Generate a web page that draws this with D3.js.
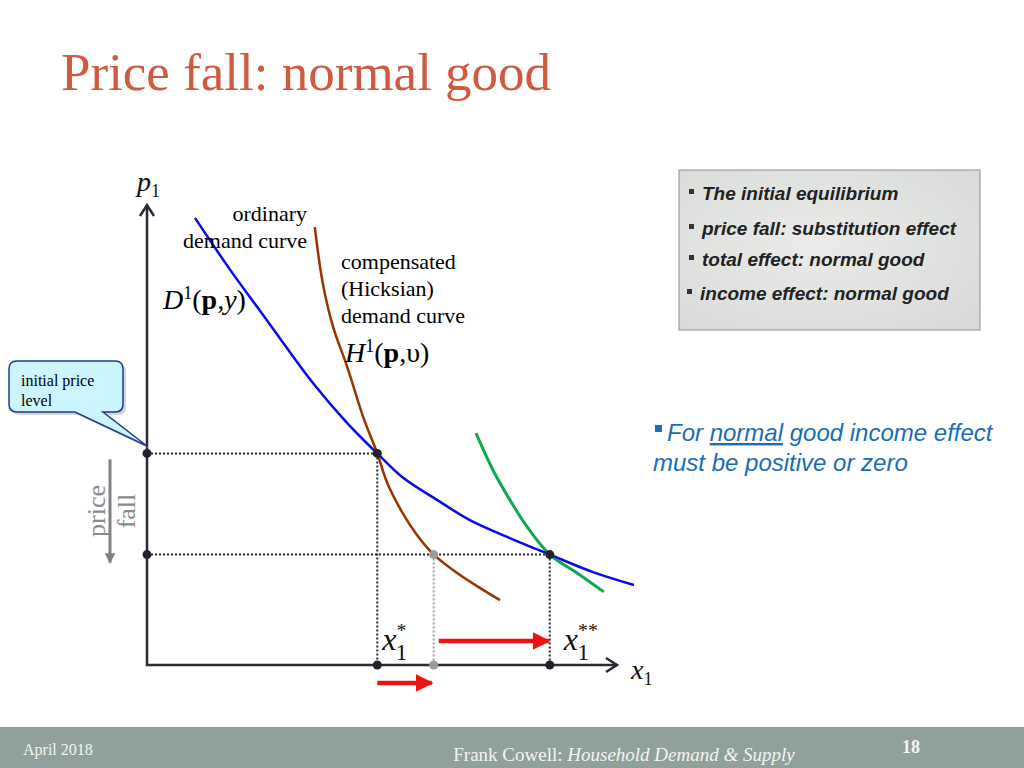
<!DOCTYPE html>
<html>
<head>
<meta charset="utf-8">
<script src="https://cdn.jsdelivr.net/npm/d3@7"></script>
<style>
  body { margin: 0; background: #fff; }
  svg { display: block; }
</style>
</head>
<body>
<script>
// curves, in chart units (x: quantity 0..10, y: price 0..10)
const ordinaryDemand = [[1.02, 9.72], [1.77, 8.59], [2.47, 7.61], [3.53, 6.13], [4.26, 5.26], [4.90, 4.60], [5.45, 4.07], [6.17, 3.59], [6.87, 3.15], [7.72, 2.76], [8.57, 2.40], [9.49, 2.02], [10.36, 1.74]];
const compensatedDemand = [[3.57, 9.52], [3.74, 8.30], [3.96, 7.35], [4.26, 6.48], [4.60, 5.39], [4.90, 4.60], [5.11, 3.96], [5.44, 3.30], [5.74, 2.83], [6.10, 2.40], [6.60, 2.00], [7.09, 1.67], [7.51, 1.41]];
const newCompensated = [[7.00, 5.04], [7.36, 4.24], [7.72, 3.59], [8.09, 3.00], [8.57, 2.40], [9.15, 2.00], [9.72, 1.59]];

const priceLevels = [4.6, 2.4];          // initial, after fall
const quantities = [4.9, 6.1, 8.57];     // x*, substitution point, x**

const legendItems = ['The initial equilibrium', 'price fall: substitution effect', 'total effect: normal good', 'income effect: normal good'];

const width = 1024, height = 768;
const svg = d3.select('body').append('svg')
    .attr('width', width)
    .attr('height', height)
    .style('font-family', 'Liberation Serif, serif');

const defs = svg.append('defs');
defs.append('marker').attr('id', 'redHead')
    .attr('viewBox', '0 0 10 10').attr('refX', 9).attr('refY', 5)
    .attr('markerWidth', 4).attr('markerHeight', 4).attr('orient', 'auto')
    .attr('markerUnits', 'strokeWidth')
    .append('path').attr('d', 'M0,0 L10,5 L0,10 Z').attr('fill', '#ee1111');
defs.append('marker').attr('id', 'greyHead')
    .attr('viewBox', '0 0 10 10').attr('refX', 9).attr('refY', 5)
    .attr('markerWidth', 3.5).attr('markerHeight', 3.5).attr('orient', 'auto')
    .attr('markerUnits', 'strokeWidth')
    .append('path').attr('d', 'M0,0 L10,5 L0,10 Z').attr('fill', '#808080');
const grad = defs.append('radialGradient').attr('id', 'boxFill')
    .attr('cx', '45%').attr('cy', '45%').attr('r', '70%');
grad.append('stop').attr('offset', '0%').attr('stop-color', '#ebecea');
grad.append('stop').attr('offset', '100%').attr('stop-color', '#d8dbd8');

// title
svg.append('text')
    .attr('x', 61).attr('y', 90)
    .attr('fill', '#d05a40')
    .style('font-size', '53px')
    .text('Price fall: normal good');

// scales
const x = d3.scaleLinear().domain([0, 10]).range([147, 617]);
const y = d3.scaleLinear().domain([0, 10]).range([665, 205]);

const line = d3.line()
    .x(d => x(d[0]))
    .y(d => y(d[1]))
    .curve(d3.curveCatmullRom.alpha(0.5));

// dotted guides
const guides = svg.append('g')
    .attr('stroke', '#2a2a35').attr('stroke-width', 2)
    .attr('stroke-dasharray', '2,2').attr('fill', 'none');
guides.append('line').attr('x1', x(0)).attr('x2', x(quantities[0]))
    .attr('y1', y(priceLevels[0])).attr('y2', y(priceLevels[0]));
guides.append('line').attr('x1', x(quantities[0])).attr('x2', x(quantities[0]))
    .attr('y1', y(priceLevels[0])).attr('y2', y(0));
guides.append('line').attr('x1', x(0)).attr('x2', x(quantities[2]))
    .attr('y1', y(priceLevels[1])).attr('y2', y(priceLevels[1]));
guides.append('line').attr('x1', x(quantities[2])).attr('x2', x(quantities[2]))
    .attr('y1', y(priceLevels[1])).attr('y2', y(0));
svg.append('line')
    .attr('stroke', '#a0a0a0').attr('stroke-width', 2).attr('stroke-dasharray', '2,2')
    .attr('x1', x(quantities[1])).attr('x2', x(quantities[1]))
    .attr('y1', y(priceLevels[1])).attr('y2', y(0));

// curves
svg.append('path').datum(compensatedDemand)
    .attr('d', line).attr('fill', 'none')
    .attr('stroke', '#993300').attr('stroke-width', 2.5);
svg.append('path').datum(newCompensated)
    .attr('d', line).attr('fill', 'none')
    .attr('stroke', '#10a84f').attr('stroke-width', 3);
svg.append('path').datum(ordinaryDemand)
    .attr('d', line).attr('fill', 'none')
    .attr('stroke', '#0a0ae6').attr('stroke-width', 2.5);

// axes
const axes = svg.append('g').attr('stroke', '#2a2a35').attr('stroke-width', 2.5).attr('fill', 'none');
axes.append('path').attr('d', `M${x(0)},${y(10)} V${y(0)} H${x(10)}`);
axes.append('path').attr('d', `M${x(0) - 7},${y(10) + 11} L${x(0)},${y(10)} L${x(0) + 7},${y(10) + 11}`);
axes.append('path').attr('d', `M${x(10) - 11},${y(0) - 7} L${x(10)},${y(0)} L${x(10) - 11},${y(0) + 7}`);

// dots
const blackDots = [[0, priceLevels[0]], [quantities[0], priceLevels[0]], [0, priceLevels[1]],
    [quantities[2], priceLevels[1]], [quantities[0], 0], [quantities[2], 0]];
svg.append('g').selectAll('circle').data(blackDots).join('circle')
    .attr('cx', d => x(d[0])).attr('cy', d => y(d[1])).attr('r', 4.5).attr('fill', '#22222c');
svg.append('g').selectAll('circle').data([[quantities[1], priceLevels[1]], [quantities[1], 0]]).join('circle')
    .attr('cx', d => x(d[0])).attr('cy', d => y(d[1])).attr('r', 4.5).attr('fill', '#9a9a9a');

// red arrows: income effect and substitution effect
svg.append('line')
    .attr('x1', x(quantities[1]) + 5).attr('x2', x(quantities[2]) - 1)
    .attr('y1', 641).attr('y2', 641)
    .attr('stroke', '#ee1111').attr('stroke-width', 4.5).attr('marker-end', 'url(#redHead)');
svg.append('line')
    .attr('x1', x(quantities[0])).attr('x2', x(quantities[1]) - 2)
    .attr('y1', 683).attr('y2', 683)
    .attr('stroke', '#ee1111').attr('stroke-width', 4.5).attr('marker-end', 'url(#redHead)');

// price fall arrow + label
svg.append('line')
    .attr('x1', 110).attr('x2', 110).attr('y1', y(priceLevels[0]) + 6).attr('y2', y(priceLevels[1]) + 8)
    .attr('stroke', '#808080').attr('stroke-width', 3).attr('marker-end', 'url(#greyHead)');
const pf = svg.append('text')
    .attr('transform', 'translate(0,511) rotate(-90)')
    .attr('text-anchor', 'middle').attr('fill', '#8a8a8a').style('font-size', '26px');
pf.append('tspan').attr('x', 0).attr('y', 105).text('price');
pf.append('tspan').attr('x', 0).attr('y', 135).text('fall');

// axis labels
function subLabel(px, py, main, sub, sup, size) {
    const t = svg.append('text').attr('x', px).attr('y', py).style('font-size', size + 'px').attr('fill', '#111');
    t.append('tspan').style('font-style', 'italic').text(main);
    if (sup) {
        t.append('tspan').attr('dy', -size * 0.42).style('font-size', (size * 0.62) + 'px').text(sup);
        t.append('tspan').attr('dx', -size * 0.3 * sup.length - 1).attr('dy', size * 0.72).style('font-size', (size * 0.72) + 'px').text(sub);
    } else {
        t.append('tspan').attr('dy', size * 0.2).style('font-size', (size * 0.65) + 'px').text(sub);
    }
}
subLabel(137, 191, 'p', '1', null, 28);
subLabel(631, 679, 'x', '1', null, 28);
subLabel(x(quantities[0]) + 5, 650, 'x', '1', '*', 32);
subLabel(x(quantities[2]) + 14, 650, 'x', '1', '**', 32);

// curve labels
svg.append('text').attr('x', 307).attr('y', 221).attr('text-anchor', 'end').style('font-size', '22px').text('ordinary');
svg.append('text').attr('x', 307).attr('y', 248).attr('text-anchor', 'end').style('font-size', '22px').text('demand curve');
['compensated', '(Hicksian)', 'demand curve'].forEach((s, i) => {
    svg.append('text').attr('x', 341).attr('y', 269 + i * 27).style('font-size', '22px').text(s);
});
const dl = svg.append('text').attr('x', 163).attr('y', 309).style('font-size', '28px');
dl.append('tspan').style('font-style', 'italic').text('D');
dl.append('tspan').attr('dy', -10).style('font-size', '18px').text('1');
dl.append('tspan').attr('dy', 10).text('(');
dl.append('tspan').style('font-weight', 'bold').text('p');
dl.append('tspan').text(',');
dl.append('tspan').style('font-style', 'italic').text('y');
dl.append('tspan').text(')');
const hl = svg.append('text').attr('x', 345).attr('y', 362).style('font-size', '28px');
hl.append('tspan').style('font-style', 'italic').text('H');
hl.append('tspan').attr('dy', -10).style('font-size', '18px').text('1');
hl.append('tspan').attr('dy', 10).text('(');
hl.append('tspan').style('font-weight', 'bold').text('p');
hl.append('tspan').text(',υ)');

// callout
const calloutPath = 'M17,361 H115 Q123,361 123,369 V404 Q123,412 115,412 H103 L147,446 L75,412 H17 Q9,412 9,404 V369 Q9,361 17,361 Z';
svg.append('path').attr('d', calloutPath).attr('transform', 'translate(3,3)').attr('fill', '#b8b8c0').attr('opacity', 0.6);
svg.append('path').attr('d', calloutPath).attr('fill', '#ccf6ff').attr('stroke', '#1f3a8f').attr('stroke-width', 1.5);
svg.append('text').attr('x', 21).attr('y', 386).style('font-size', '16px').text('initial price');
svg.append('text').attr('x', 21).attr('y', 406).style('font-size', '16px').text('level');

// legend box
svg.append('rect').attr('x', 679).attr('y', 170).attr('width', 301).attr('height', 160)
    .attr('fill', 'url(#boxFill)').attr('stroke', '#9aa09c').attr('stroke-width', 1.2);
const legendY = [200, 235, 266, 300];
const legendX = [702, 702, 702, 700];
legendItems.forEach((s, i) => {
    svg.append('rect').attr('x', legendX[i] - 13).attr('y', legendY[i] - 11).attr('width', 5).attr('height', 5).attr('fill', '#333');
    svg.append('text').attr('x', legendX[i]).attr('y', legendY[i])
        .style('font-family', 'Liberation Sans, Arial, sans-serif')
        .style('font-size', '19px').style('font-style', 'italic').style('font-weight', 'bold')
        .attr('fill', '#222').text(s);
});

// note
const note = svg.append('g').style('font-family', 'Liberation Sans, Arial, sans-serif')
    .style('font-size', '24px').style('font-style', 'italic').attr('fill', '#1a6db5');
note.append('rect').attr('x', 655).attr('y', 425).attr('width', 7).attr('height', 7).attr('fill', '#1a6db5');
const n1 = note.append('text').attr('x', 667).attr('y', 441);
n1.append('tspan').text('For ');
n1.append('tspan').style('text-decoration', 'underline').text('normal');
n1.append('tspan').text(' good income effect');
note.append('text').attr('x', 653).attr('y', 471).text('must be positive or zero');

// footer
svg.append('rect').attr('x', 0).attr('y', 727).attr('width', width).attr('height', 41).attr('fill', '#8fa19a');
svg.append('text').attr('x', 23).attr('y', 755).attr('fill', '#f4f4f4').style('font-size', '16px').text('April 2018');
const ft = svg.append('text').attr('x', 624).attr('y', 761).attr('text-anchor', 'middle').attr('fill', '#f4f4f4').style('font-size', '19px');
ft.append('tspan').text('Frank Cowell: ');
ft.append('tspan').style('font-style', 'italic').text('Household Demand & Supply');
svg.append('text').attr('x', 911).attr('y', 753).attr('text-anchor', 'middle').attr('fill', '#f4f4f4')
    .style('font-size', '18px').style('font-weight', 'bold').text('18');
</script>
</body>
</html>
